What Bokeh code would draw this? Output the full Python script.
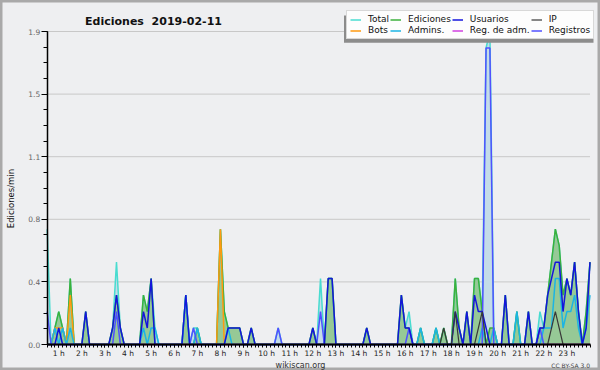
from math import pi
from bokeh.plotting import figure
from bokeh.models import Range1d, FixedTicker, Legend, LegendItem, Label, BoxAnnotation
from bokeh.embed import file_html
from bokeh.resources import INLINE

# ---------------- data ----------------
# 10-minute slots; slot 0 = 00:30, slot 141 = 24:00 (values in edits/min)
SLOT_START_H = 0.5
SLOT_H = 1 / 6
N_SLOTS = 142
X_END_H = 24.0
Y_MAX = 1.9

total_vals = {0: 0.7, 2: 0.1, 3: 0.2, 4: 0.1, 6: 0.4, 10: 0.2, 17: 0.1, 18: 0.5, 19: 0.1,
              25: 0.3, 26: 0.2, 27: 0.4, 28: 0.1, 36: 0.3, 38: 0.1, 39: 0.1, 45: 0.7, 46: 0.2,
              47: 0.1, 48: 0.1, 49: 0.1, 50: 0.1, 53: 0.1, 60: 0.1, 69: 0.1, 71: 0.4, 73: 0.4,
              74: 0.4, 83: 0.1, 92: 0.3, 93: 0.1, 94: 0.2, 97: 0.1, 101: 0.1, 103: 0.1, 106: 0.4,
              107: 0.1, 109: 0.2, 111: 0.4, 112: 0.4, 113: 0.2, 114: 1.8, 115: 1.9, 116: 0.1,
              119: 0.3, 122: 0.2, 125: 0.2, 128: 0.2, 129: 0.1, 130: 0.3, 131: 0.5, 132: 0.7,
              133: 0.6, 134: 0.3, 135: 0.4, 136: 0.3, 137: 0.5, 138: 0.2, 140: 0.2, 141: 0.5}

ediciones_vals = {2: 0.1, 3: 0.2, 4: 0.1, 6: 0.4, 10: 0.2, 17: 0.1, 18: 0.3, 19: 0.1, 25: 0.3,
                  26: 0.2, 27: 0.4, 36: 0.3, 39: 0.1, 45: 0.7, 46: 0.2, 47: 0.1, 48: 0.1, 49: 0.1,
                  50: 0.1, 53: 0.1, 69: 0.1, 73: 0.4, 74: 0.4, 83: 0.1, 92: 0.3, 93: 0.1, 94: 0.1,
                  97: 0.1, 101: 0.1, 103: 0.1, 106: 0.4, 107: 0.1, 109: 0.2, 111: 0.4, 112: 0.4,
                  113: 0.2, 115: 0.1, 116: 0.1, 119: 0.3, 122: 0.2, 125: 0.2, 128: 0.1, 129: 0.1,
                  130: 0.3, 131: 0.5, 132: 0.7, 133: 0.6, 134: 0.3, 135: 0.4, 136: 0.3, 137: 0.5,
                  138: 0.2, 140: 0.2, 141: 0.5}

usuarios_vals = {3: 0.1, 10: 0.2, 17: 0.1, 18: 0.3, 19: 0.1, 25: 0.2, 26: 0.1, 27: 0.4, 36: 0.3,
                 47: 0.1, 48: 0.1, 49: 0.1, 50: 0.1, 53: 0.1, 69: 0.1, 73: 0.4, 74: 0.4, 83: 0.1,
                 92: 0.3, 93: 0.1, 94: 0.1, 106: 0.2, 107: 0.1, 109: 0.2, 111: 0.3, 112: 0.2,
                 113: 0.2, 114: 0.1, 119: 0.3, 125: 0.2, 128: 0.1, 129: 0.1, 130: 0.3, 131: 0.4,
                 132: 0.5, 133: 0.5, 134: 0.2, 135: 0.4, 136: 0.3, 137: 0.5, 138: 0.2, 140: 0.1,
                 141: 0.5}

ip_vals = {103: 0.1, 106: 0.2, 112: 0.1, 113: 0.2, 131: 0.1, 132: 0.2, 133: 0.1}

bots_vals = {2: 0.1, 3: 0.1, 4: 0.1, 6: 0.3, 45: 0.7}

admins_vals = {2: 0.1, 4: 0.1, 6: 0.1, 25: 0.1, 27: 0.1, 28: 0.1, 36: 0.3, 39: 0.1, 47: 0.1,
               97: 0.1, 101: 0.1, 113: 0.1, 116: 0.1, 122: 0.2, 129: 0.1, 130: 0.1, 131: 0.1,
               132: 0.4, 133: 0.4, 134: 0.1, 135: 0.2, 136: 0.2, 137: 0.3, 138: 0.1, 140: 0.1,
               141: 0.3}

reg_adm_vals = {}

registros_vals = {0: 0.2, 18: 0.2, 38: 0.1, 60: 0.1, 71: 0.2, 94: 0.1, 114: 1.8, 115: 1.8, 128: 0.1}

hour_ticks = list(range(1, 24))
hour_labels = ["1 h", "2 h", "3 h", "4 h", "5 h", "6 h", "7 h", "8 h", "9 h", "10 h", "11 h",
               "12 h", "13 h", "14 h", "15 h", "16 h", "17 h", "18 h", "19 h", "20 h", "21 h",
               "22 h", "23 h"]
y_ticks = [0.0, 0.38, 0.76, 1.14, 1.52, 1.9]
y_tick_labels = ["0.0", "0.4", "0.8", "1.1", "1.5", "1.9"]


def dense(d):
    return [d.get(i, 0.0) for i in range(N_SLOTS)]


x = [SLOT_START_H + i * SLOT_H for i in range(N_SLOTS)]
total = dense(total_vals)
ediciones = dense(ediciones_vals)
usuarios = dense(usuarios_vals)
ip = dense(ip_vals)
bots = dense(bots_vals)
admins = dense(admins_vals)
reg_adm = dense(reg_adm_vals)
registros = dense(registros_vals)

# ---------------- layout (pixels) ----------------
W, H = 600, 370
PX_LEFT, PX_RIGHT = 46.7, 589.5      # where 00:30 and 24:00 fall
PX_ZERO, PX_TOP = 344.0, 31.0        # where 0 and Y_MAX fall
px_per_h = (PX_RIGHT - PX_LEFT) / (X_END_H - SLOT_START_H)
px_per_u = (PX_ZERO - PX_TOP) / Y_MAX
x_range = Range1d(SLOT_START_H - PX_LEFT / px_per_h, X_END_H + (W - PX_RIGHT) / px_per_h)
y_range = Range1d(-(H - PX_ZERO) / px_per_u, Y_MAX + PX_TOP / px_per_u)

BG = "#eeeff1"
p = figure(width=W, height=H, output_backend="svg", toolbar_location=None,
           x_range=x_range, y_range=y_range,
           min_border_left=0, min_border_right=0, min_border_top=0, min_border_bottom=0,
           background_fill_color=BG, border_fill_color=BG)
p.outline_line_color = "#a9a9a9"
p.outline_line_width = 4
p.xgrid.visible = False
p.ygrid.visible = False

# horizontal grid lines at the y ticks, limited to the time span
p.multi_line(xs=[[SLOT_START_H, X_END_H] for _ in y_ticks], ys=[[t, t] for t in y_ticks],
             line_color="#c8c8c8", line_width=1)

# areas
p.varea(x=x, y1=0, y2=total, fill_color="#c4dce8")
p.varea(x=x, y1=0, y2=ediciones, fill_color="#96c996")

# lines
r_total = p.line(x, total, line_color="#48dcd0", line_width=1.5)
r_edic = p.line(x, ediciones, line_color="#3cb03c", line_width=1.5)
r_regadm = p.line(x, reg_adm, line_color="#d040e0", line_width=1.5)
r_bots = p.line(x, bots, line_color="#ff9a10", line_width=1.5)
r_admins = p.line(x, admins, line_color="#1cb4e4", line_width=1.5)
r_regis = p.line(x, registros, line_color="#5050ff", line_width=1.5)
r_usu = p.line(x, usuarios, line_color="#1414dc", line_width=1.5)
r_ip = p.line(x, ip, line_color="#383838", line_width=1.2)

# axes (drawn at the data origin, not taking border space)
xt = FixedTicker(ticks=hour_ticks, minor_ticks=x)
xa = p.xaxis[0]
xa.ticker = xt
xa.fixed_location = 0
xa.bounds = (SLOT_START_H, X_END_H)
xa.major_label_overrides = {h: lab for h, lab in zip(hour_ticks, hour_labels)}

yt = FixedTicker(ticks=y_ticks, minor_ticks=[k * 0.095 for k in range(21)])
ya = p.yaxis[0]
ya.ticker = yt
ya.fixed_location = SLOT_START_H
ya.bounds = (0, Y_MAX)
ya.major_label_overrides = {t: lab for t, lab in zip(y_ticks, y_tick_labels)}

for ax in (xa, ya):
    ax.axis_line_color = "black"
    ax.major_tick_line_color = "black"
    ax.minor_tick_line_color = "black"
    ax.major_tick_in = 0
    ax.minor_tick_in = 0
    ax.major_label_text_font = "DejaVu Sans"
    ax.major_label_standoff = 1

xa.axis_line_width = 2
xa.major_tick_out = 3
xa.minor_tick_out = 3
xa.major_label_text_font_size = "7.5px"
xa.major_label_text_color = "#222222"

ya.axis_line_width = 1.5
ya.major_tick_out = 6
ya.minor_tick_out = 4
ya.major_label_text_font_size = "7.5px"
ya.major_label_text_color = "#666666"

# texts
p.add_layout(Label(x=153, y=21, x_units="canvas", y_units="canvas",
                   text="Ediciones \u00a02019-02-11", text_align="center",
                   text_baseline="alphabetic", text_font="DejaVu Sans",
                   text_font_size="11px", text_font_style="bold", text_color="#111111"))
p.add_layout(Label(x=10, y=198, x_units="canvas", y_units="canvas", angle=pi / 2,
                   text="Ediciones/min", text_align="center", text_baseline="middle",
                   text_font="DejaVu Sans", text_font_size="8.5px", text_color="#111111"))
p.add_layout(Label(x=300, y=364.5, x_units="canvas", y_units="canvas",
                   text="wikiscan.org", text_align="center", text_baseline="alphabetic",
                   text_font="DejaVu Sans", text_font_size="8px", text_color="#333333"))
p.add_layout(Label(x=589.5, y=365, x_units="canvas", y_units="canvas",
                   text="CC BY-SA 3.0", text_align="right", text_baseline="alphabetic",
                   text_font="DejaVu Sans", text_font_size="6px", text_color="#444444"))

# legend with shadow
p.add_layout(BoxAnnotation(left=343.5, right=593, top=15, bottom=42.3,
                           left_units="canvas", right_units="canvas",
                           top_units="canvas", bottom_units="canvas",
                           fill_color="#8c8c8c", fill_alpha=1, line_color=None))

legend = Legend(items=[LegendItem(label="Total", renderers=[r_total]),
                       LegendItem(label="Ediciones", renderers=[r_edic]),
                       LegendItem(label="Usuarios", renderers=[r_usu]),
                       LegendItem(label="IP", renderers=[r_ip]),
                       LegendItem(label="Bots", renderers=[r_bots]),
                       LegendItem(label="Admins.", renderers=[r_admins]),
                       LegendItem(label="Reg. de adm.", renderers=[r_regadm]),
                       LegendItem(label="Registros", renderers=[r_regis])],
                location=(346, H - 39.3), orientation="horizontal", nrows=2,
                margin=0, padding=3, spacing=1, glyph_width=11, glyph_height=9,
                label_height=9, label_standoff=7, label_text_font="DejaVu Sans",
                label_text_font_size="9px", label_text_color="#111111",
                border_line_color="#b4b4b4", border_line_width=1,
                background_fill_color="#fdfdfd", background_fill_alpha=1)
p.add_layout(legend)

open("out.html", "w").write(file_html(p, INLINE))
